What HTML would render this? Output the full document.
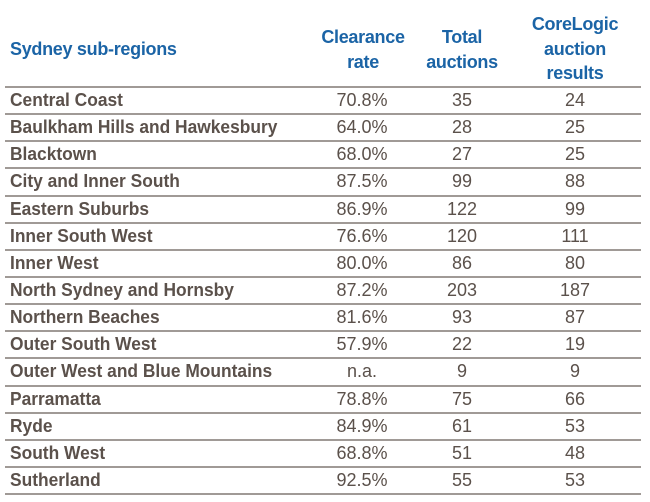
<!DOCTYPE html>
<html><head><style>
body{margin:0;width:650px;height:502px;background:#fff;overflow:hidden;font-family:"Liberation Sans",sans-serif;}
.t{position:absolute;white-space:nowrap;}
.h{color:#1b64a6;font-weight:bold;font-size:18px;text-align:center;line-height:24.5px;letter-spacing:-0.3px;}
.r{position:absolute;left:0;width:650px;height:27px;color:#5b514b;font-size:18px;line-height:27px;}
.r span{position:absolute;top:0;}
.l{left:10px;font-weight:bold;transform:scaleX(0.965);transform-origin:0 0;}
.c1{left:312px;width:100px;text-align:center;}
.c2{left:412px;width:100px;text-align:center;}
.c3{left:525px;width:100px;text-align:center;}
.ln{position:absolute;left:5px;width:636px;height:2px;background:#a09a96;}
</style></head><body>
<div class="t h" style="left:10px;top:37px;text-align:left">Sydney sub-regions</div>
<div class="t h" style="left:313px;top:25px;width:100px">Clearance<br>rate</div>
<div class="t h" style="left:412px;top:25px;width:100px">Total<br>auctions</div>
<div class="t h" style="left:525px;top:12px;width:100px">CoreLogic<br>auction<br>results</div>
<div id="rows"></div>
<script>
var d=[["Central Coast","70.8%",35,24],["Baulkham Hills and Hawkesbury","64.0%",28,25],["Blacktown","68.0%",27,25],["City and Inner South","87.5%",99,88],["Eastern Suburbs","86.9%",122,99],["Inner South West","76.6%",120,111],["Inner West","80.0%",86,80],["North Sydney and Hornsby","87.2%",203,187],["Northern Beaches","81.6%",93,87],["Outer South West","57.9%",22,19],["Outer West and Blue Mountains","n.a.",9,9],["Parramatta","78.8%",75,66],["Ryde","84.9%",61,53],["South West","68.8%",51,48],["Sutherland","92.5%",55,53]];
var h="";
for(var i=0;i<d.length;i++){var y=87+i*27.14;
h+='<div class="ln" style="top:'+(y-1)+'px"></div>';
h+='<div class="r" style="top:'+(y+0)+'px"><span class="l">'+d[i][0]+'</span><span class="c1">'+d[i][1]+'</span><span class="c2">'+d[i][2]+'</span><span class="c3">'+d[i][3]+'</span></div>';}
h+='<div class="ln" style="top:'+(87+15*27.14-1)+'px"></div>';
document.getElementById("rows").innerHTML=h;
</script>
</body></html>
